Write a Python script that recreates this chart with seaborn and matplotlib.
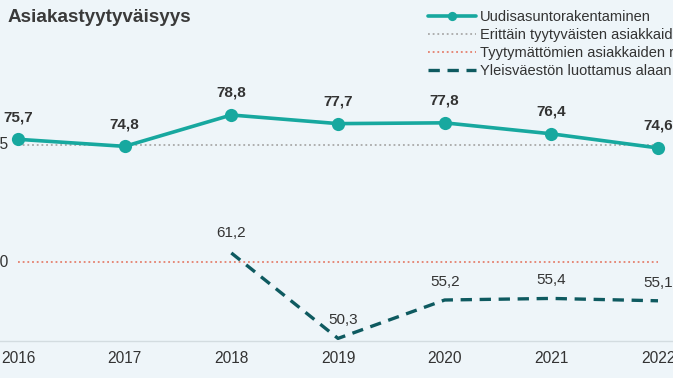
import matplotlib
matplotlib.use("Agg")
import matplotlib.pyplot as plt
import matplotlib.transforms as mtransforms
import seaborn as sns
import pandas as pd

# ---- data ----
years = [2016, 2017, 2018, 2019, 2020, 2021, 2022]
new_building = [75.7, 74.8, 78.8, 77.7, 77.8, 76.4, 74.6]
very_satisfied_ref = [75, 75, 75, 75, 75, 75, 75]
dissatisfied_ref = [60, 60, 60, 60, 60, 60, 60]
trust_years = [2018, 2019, 2020, 2021, 2022]
public_trust = [61.2, 50.3, 55.2, 55.4, 55.1]
ytick_vals = [75, 60]
ytick_labels = ["75", "60"]
title = "Asiakastyytyväisyys"
legend_labels = [
    "Uudisasuntorakentaminen",
    "Erittäin tyytyväisten asiakkaiden määrä",
    "Tyytymättömien asiakkaiden määrä",
    "Yleisväestön luottamus alaan",
]

sns.set_theme(style="white")
plt.rcParams["font.family"] = ["Liberation Sans", "DejaVu Sans"]

BG = "#eef5f9"
TEAL = "#17a89f"
DARK = "#0e5a60"
GRAY = "#a9a9a9"
RED = "#e5806d"
TXT = "#333333"

fig = plt.figure(figsize=(6.73, 3.78), dpi=100)
fig.patch.set_facecolor(BG)
ax = fig.add_axes([0, 37 / 378, 1, 341 / 378])
ax.set_facecolor(BG)

df_main = pd.DataFrame({"year": years, "v": new_building})
df_hi = pd.DataFrame({"year": years, "v": very_satisfied_ref})
df_lo = pd.DataFrame({"year": years, "v": dissatisfied_ref})
df_tr = pd.DataFrame({"year": trust_years, "v": public_trust})

sns.lineplot(data=df_hi, x="year", y="v", ax=ax, color=GRAY, lw=1.3,
             linestyle=(0, (1, 1.6)), label=legend_labels[1], zorder=1)
sns.lineplot(data=df_lo, x="year", y="v", ax=ax, color=RED, lw=1.3,
             linestyle=(0, (1, 1.6)), label=legend_labels[2], zorder=1)
sns.lineplot(data=df_main, x="year", y="v", ax=ax, color=TEAL, lw=2.6,
             marker="o", markersize=9.5, markeredgewidth=0,
             label=legend_labels[0], zorder=3)
sns.lineplot(data=df_tr, x="year", y="v", ax=ax, color=DARK, lw=2.4,
             linestyle=(0, (3.4, 2.3)), label=legend_labels[3], zorder=2)

# data labels
for x, y in zip(years, new_building):
    ax.annotate(f"{y:.1f}".replace(".", ","), (x, y), xytext=(0, 16),
                textcoords="offset points", ha="center", va="center",
                fontsize=11, fontweight="bold", color=TXT)
for x, y in zip(trust_years, public_trust):
    dy = 14.4 if y > 60 else 13
    dx = 3.6 if y < 52 else 0
    ax.annotate(f"{y:.1f}".replace(".", ","), (x, y), xytext=(dx, dy),
                textcoords="offset points", ha="center", va="center",
                fontsize=11, color=TXT)

ax.set_xlim(2016 - 18 / 106.67, 2022 + 15 / 106.67)
ax.set_ylim(49.97, 93.47)
ax.set_xticks(years)
ax.set_xticklabels([str(y) for y in years])
ax.tick_params(axis="x", length=0, pad=7, labelsize=11.2, colors=TXT)
ax.set_yticks([])
ax.set_xlabel("")
ax.set_ylabel("")
for s in ["top", "right", "left"]:
    ax.spines[s].set_visible(False)
ax.spines["bottom"].set_color("#d3dce0")
ax.spines["bottom"].set_linewidth(1.0)

# y labels (cropped at the left edge in the reference)
trans = mtransforms.blended_transform_factory(ax.transAxes, ax.transData)
for v, lab in zip(ytick_vals, ytick_labels):
    ax.text(8 / 673, v, lab, transform=trans, ha="right", va="center",
            fontsize=11.2, color=TXT)

# title
fig.text(8 / 673, 1 - 17 / 378, title, ha="left", va="center",
         fontsize=13.6, fontweight="bold", color="#3a3a3a")

# legend
ax.get_legend().remove()
h, l = ax.get_legend_handles_labels()
order = [l.index(t) for t in legend_labels]
leg = fig.legend([h[i] for i in order], [l[i] for i in order],
                 loc="upper left", bbox_to_anchor=(428 / 673, 1 - 10 / 378),
                 frameon=False, fontsize=10.5, borderpad=0, borderaxespad=0,
                 handlelength=3.3, handletextpad=0.25, labelspacing=0.28,
                 markerscale=0.7)
for t in leg.get_texts():
    t.set_color(TXT)

fig.savefig("out.png", dpi=100, facecolor=BG)
